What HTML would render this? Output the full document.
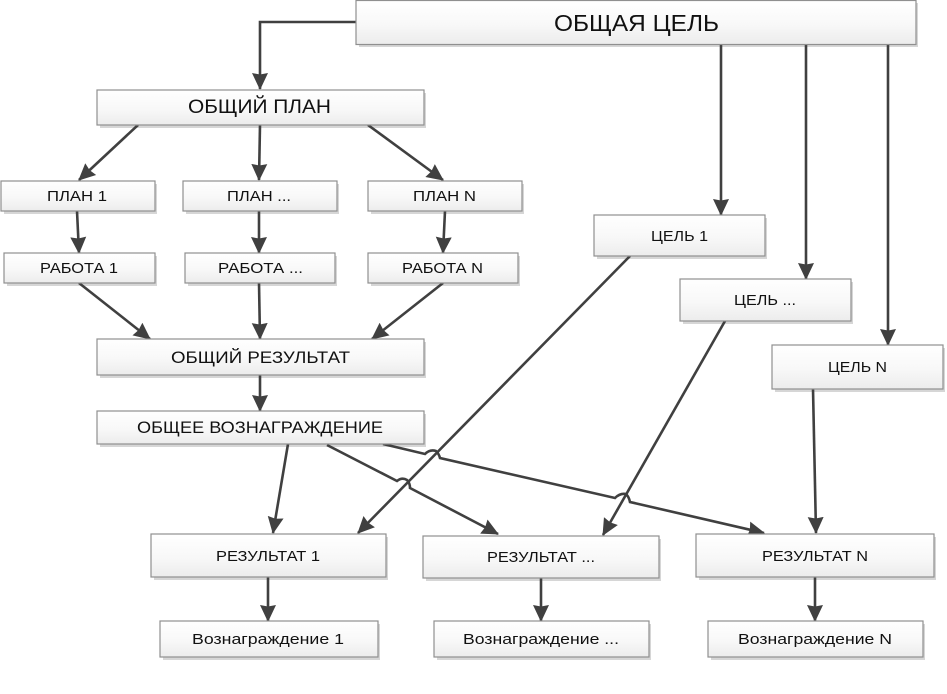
<!DOCTYPE html>
<html><head><meta charset="utf-8"><style>
html,body{margin:0;padding:0;background:#fff}
svg{display:block}
text{font-family:"Liberation Sans","DejaVu Sans",sans-serif;fill:#111;text-anchor:start}
.b{fill:url(#g);stroke:#8f8f8f;stroke-width:1.2}
.s{fill:#d6d6d6}
.l{fill:none;stroke:#404040;stroke-width:2.6}
.a{fill:#404040;stroke:none}
</style></head><body>
<svg width="947" height="694" viewBox="0 0 947 694" xmlns="http://www.w3.org/2000/svg">
<defs><linearGradient id="g" x1="0" y1="0" x2="0" y2="1"><stop offset="0" stop-color="#ffffff"/><stop offset="0.55" stop-color="#f8f8f8"/><stop offset="1" stop-color="#ececec"/></linearGradient>
<marker id="m" viewBox="0 0 18 18" refX="16" refY="9" markerWidth="18" markerHeight="18" markerUnits="userSpaceOnUse" orient="auto"><path class="a" d="M0 1L17 9L0 17L1.5 9Z"/></marker></defs>

<!-- shadows -->
<rect class="s" x="359" y="3" width="559" height="44"/>
<rect class="s" x="100" y="93" width="326" height="35"/>
<rect class="s" x="4" y="184" width="153" height="30"/>
<rect class="s" x="186" y="184" width="153" height="30"/>
<rect class="s" x="371" y="184" width="153" height="30"/>
<rect class="s" x="7" y="256" width="150" height="30"/>
<rect class="s" x="188" y="256" width="149" height="30"/>
<rect class="s" x="371" y="256" width="149" height="30"/>
<rect class="s" x="100" y="342" width="326" height="36"/>
<rect class="s" x="100" y="414" width="326" height="33"/>
<rect class="s" x="597" y="218" width="170" height="41"/>
<rect class="s" x="683" y="282" width="170" height="42"/>
<rect class="s" x="775" y="348" width="170" height="44"/>
<rect class="s" x="154" y="537" width="234" height="43"/>
<rect class="s" x="426" y="539" width="235" height="42"/>
<rect class="s" x="699" y="537" width="237" height="43"/>
<rect class="s" x="163" y="624" width="217" height="36"/>
<rect class="s" x="437" y="624" width="214" height="36"/>
<rect class="s" x="711" y="624" width="214" height="36"/>

<!-- connectors -->
<g class="l">
<path marker-end="url(#m)" d="M356 22H260V89"/>
<path marker-end="url(#m)" d="M721 44V215"/>
<path marker-end="url(#m)" d="M806 44V279"/>
<path marker-end="url(#m)" d="M888 44V345"/>
<path marker-end="url(#m)" d="M138 125L79 180"/>
<path marker-end="url(#m)" d="M260 125L259 180"/>
<path marker-end="url(#m)" d="M368 125L443 180"/>
<path marker-end="url(#m)" d="M77 211L79 253"/>
<path marker-end="url(#m)" d="M259 211V253"/>
<path marker-end="url(#m)" d="M445 211L443 253"/>
<path marker-end="url(#m)" d="M79 283L150 339"/>
<path marker-end="url(#m)" d="M259 283L260 339"/>
<path marker-end="url(#m)" d="M443 283L372 339"/>
<path marker-end="url(#m)" d="M260 375V411"/>
<path marker-end="url(#m)" d="M288 444L273 533"/>
<path marker-end="url(#m)" d="M630 256L358 533"/>
<path marker-end="url(#m)" d="M725 321L603 535"/>
<path marker-end="url(#m)" d="M813 389L816 533"/>
<path marker-end="url(#m)" d="M327 445L397 481Q402 477 407 480Q410 483 410 488L498 534"/>
<path marker-end="url(#m)" d="M383 444L425 454Q430 449 436 451Q439 454 440 458L615 498Q620 493 626 494Q629 497 630 502L764 533"/>
<path marker-end="url(#m)" d="M268 577V621"/>
<path marker-end="url(#m)" d="M541 578V621"/>
<path marker-end="url(#m)" d="M815 577V621"/>
</g>

<!-- boxes -->
<rect class="b" x="356" y="0.5" width="560" height="44"/>
<rect class="b" x="97" y="90" width="327" height="35"/>
<rect class="b" x="1" y="181" width="154" height="30"/>
<rect class="b" x="183" y="181" width="154" height="30"/>
<rect class="b" x="368" y="181" width="154" height="30"/>
<rect class="b" x="4" y="253" width="151" height="30"/>
<rect class="b" x="185" y="253" width="150" height="30"/>
<rect class="b" x="368" y="253" width="150" height="30"/>
<rect class="b" x="97" y="339" width="327" height="36"/>
<rect class="b" x="97" y="411" width="327" height="33"/>
<rect class="b" x="594" y="215" width="171" height="41"/>
<rect class="b" x="680" y="279" width="171" height="42"/>
<rect class="b" x="772" y="345" width="171" height="44"/>
<rect class="b" x="151" y="534" width="235" height="43"/>
<rect class="b" x="423" y="536" width="236" height="42"/>
<rect class="b" x="696" y="534" width="238" height="43"/>
<rect class="b" x="160" y="621" width="218" height="36"/>
<rect class="b" x="434" y="621" width="215" height="36"/>
<rect class="b" x="708" y="621" width="215" height="36"/>

<!-- labels -->
<text x="554" y="31" font-size="23" textLength="165" lengthAdjust="spacingAndGlyphs">ОБЩАЯ ЦЕЛЬ</text>
<text x="188" y="113" font-size="19" textLength="143" lengthAdjust="spacingAndGlyphs">ОБЩИЙ ПЛАН</text>
<text x="47" y="201" font-size="15" textLength="60" lengthAdjust="spacingAndGlyphs">ПЛАН 1</text>
<text x="227" y="201" font-size="15" textLength="64" lengthAdjust="spacingAndGlyphs">ПЛАН ...</text>
<text x="413" y="201" font-size="15" textLength="63" lengthAdjust="spacingAndGlyphs">ПЛАН N</text>
<text x="40" y="273" font-size="15" textLength="78" lengthAdjust="spacingAndGlyphs">РАБОТА 1</text>
<text x="218" y="273" font-size="15" textLength="85" lengthAdjust="spacingAndGlyphs">РАБОТА ...</text>
<text x="402" y="273" font-size="15" textLength="81" lengthAdjust="spacingAndGlyphs">РАБОТА N</text>
<text x="171" y="363" font-size="17" textLength="179" lengthAdjust="spacingAndGlyphs">ОБЩИЙ РЕЗУЛЬТАТ</text>
<text x="137" y="433" font-size="17" textLength="246" lengthAdjust="spacingAndGlyphs">ОБЩЕЕ ВОЗНАГРАЖДЕНИЕ</text>
<text x="651" y="241" font-size="15" textLength="57" lengthAdjust="spacingAndGlyphs">ЦЕЛЬ 1</text>
<text x="734" y="305" font-size="15" textLength="62" lengthAdjust="spacingAndGlyphs">ЦЕЛЬ ...</text>
<text x="828" y="372" font-size="15" textLength="59" lengthAdjust="spacingAndGlyphs">ЦЕЛЬ N</text>
<text x="216" y="561" font-size="15" textLength="104" lengthAdjust="spacingAndGlyphs">РЕЗУЛЬТАТ 1</text>
<text x="487" y="562" font-size="15" textLength="108" lengthAdjust="spacingAndGlyphs">РЕЗУЛЬТАТ ...</text>
<text x="762" y="561" font-size="15" textLength="106" lengthAdjust="spacingAndGlyphs">РЕЗУЛЬТАТ N</text>
<text x="192" y="644" font-size="15" textLength="152" lengthAdjust="spacingAndGlyphs">Вознаграждение 1</text>
<text x="463" y="644" font-size="15" textLength="156" lengthAdjust="spacingAndGlyphs">Вознаграждение ...</text>
<text x="738" y="644" font-size="15" textLength="154" lengthAdjust="spacingAndGlyphs">Вознаграждение N</text>
</svg>
</body></html>
